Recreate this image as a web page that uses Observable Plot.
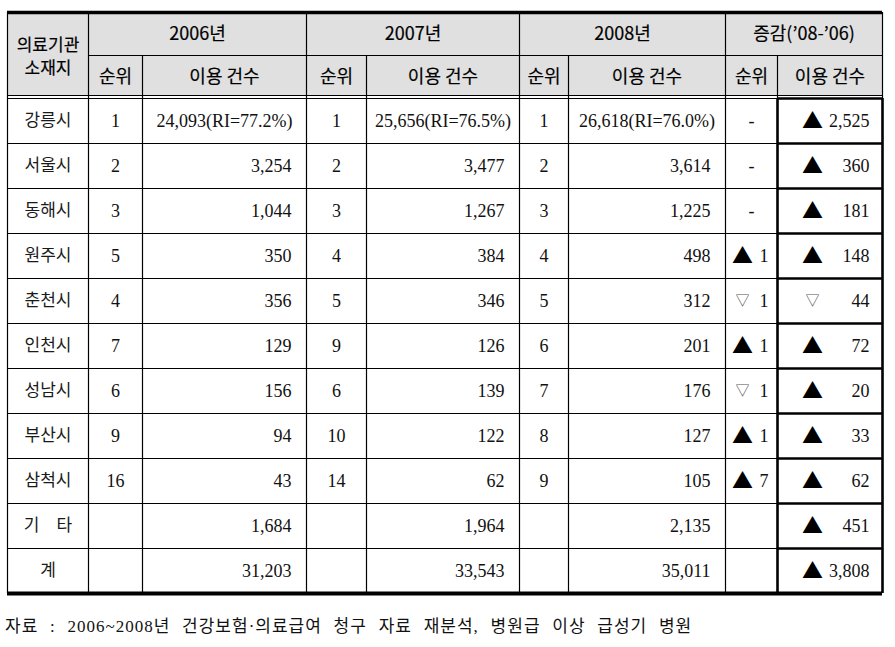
<!DOCTYPE html>
<html><head><meta charset="utf-8">
<script src="https://cdn.jsdelivr.net/npm/d3@7"></script>
<script src="https://cdn.jsdelivr.net/npm/@observablehq/plot@0.6"></script>
<style>
body{margin:0;background:#fff;}
#chart{position:absolute;left:0;top:0;}
#cap{position:absolute;left:5px;top:617px;font-family:"Liberation Serif","Noto Sans CJK KR",serif;font-size:17px;letter-spacing:1px;word-spacing:6.5px;color:#111;white-space:nowrap;line-height:20px;}
</style></head><body>
<div id="chart"></div>
<div id="cap"></div>
<script>
// ---- data ----
const cities = ["강릉시","서울시","동해시","원주시","춘천시","인천시","성남시","부산시","삼척시","기 타","계"];
const rank2006 = [1,2,3,5,4,7,6,9,16,null,null];
const count2006 = [24093,3254,1044,350,356,129,156,94,43,1684,31203];
const rank2007 = [1,2,3,4,5,9,6,10,14,null,null];
const count2007 = [25656,3477,1267,384,346,126,139,122,62,1964,33543];
const rank2008 = [1,2,3,4,5,6,7,8,9,null,null];
const count2008 = [26618,3614,1225,498,312,201,176,127,105,2135,35011];
const riShare = [77.2,76.5,76.0];
const rankChange = [0,0,0,1,-1,1,-1,1,7,null,null];
const countChange = [2525,360,181,148,-44,72,20,33,62,451,3808];
const yearLabels = ["2006년","2007년","2008년","증감(’08-’06)"];
const subLabels = ["순위","이용 건수"];
const cornerLabel = "의료기관\n소재지";
const caption = "자료 : 2006~2008년 건강보험·의료급여 청구 자료 재분석, 병원급 이상 급성기 병원";

// ---- layout ----
const W = 895, H = 600;
const colEdges = [7, 88, 142, 306, 366, 519, 568, 725, 777, 882];
const mid = (a, b) => (colEdges[a] + colEdges[b]) / 2;
const nRows = cities.length;
const fmt = d3.format(",");
const KR = "Noto Sans CJK KR";
const SERIF = "Liberation Serif";

const yearData = [
  {ranks: rank2006, counts: count2006, ri: riShare[0], c: 1},
  {ranks: rank2007, counts: count2007, ri: riShare[1], c: 3},
  {ranks: rank2008, counts: count2008, ri: riShare[2], c: 5}
];
const rankCells = [], countCells = [], riCells = [];
yearData.forEach(yd => cities.forEach((_, i) => {
  if (yd.ranks[i] != null) rankCells.push({i, x: mid(yd.c, yd.c + 1), t: String(yd.ranks[i])});
  if (i === 0) riCells.push({i, x: mid(yd.c + 1, yd.c + 2), t: `${fmt(yd.counts[i])}(RI=${yd.ri.toFixed(1)}%)`});
  else countCells.push({i, x: colEdges[yd.c + 2], t: fmt(yd.counts[i])});
}));
const cityCells = cities.map((c, i) => ({i, x: mid(0, 1), t: c.replace(" ", "\u2003")}));

const dashCells = [], rcTri = [], rcNum = [], ccTri = [], ccNum = [];
cities.forEach((_, i) => {
  const r = rankChange[i];
  if (r === 0) dashCells.push({i, x: mid(7, 8), t: "-"});
  else if (r != null) {
    rcTri.push({i, x: colEdges[7], up: r > 0});
    rcNum.push({i, x: colEdges[8], t: String(Math.abs(r))});
  }
  const v = countChange[i];
  ccTri.push({i, x: colEdges[8], up: v > 0});
  ccNum.push({i, x: colEdges[9], t: fmt(Math.abs(v))});
});

const headerYears = yearLabels.map((t, k) => ({x: mid(1 + 2 * k, 3 + 2 * k), t}));
const headerSubs = [];
for (let k = 0; k < 4; k++) subLabels.forEach((t, j) => headerSubs.push({x: mid(1 + 2 * k + j, 2 + 2 * k + j), t}));

const hLines = d3.range(1, nRows);
const vHeaderFull = [0, 1, 3, 5, 7, 9].map(k => colEdges[k]);
const vHeaderHalf = [2, 4, 6, 8].map(k => colEdges[k]);
const vBodyThin = d3.range(0, 8).map(k => colEdges[k]);
const vBodyThick = [8, 9].map(k => colEdges[k]);

const up = d => d.up ? "▲" : "▽";
const hdr = {fontFamily: KR, fontSize: 18, fill: "#000", stroke: "#000", strokeWidth: 0.2};

const plot = Plot.plot({
  width: W, height: H, margin: 0,
  x: {type: "linear", domain: [0, W], range: [0, W], axis: null},
  y: {type: "linear", domain: [-2, -1, 0, nRows], range: [12, 55, 98, 593], axis: null},
  style: {background: "#fff", overflow: "visible"},
  marks: [
    Plot.rect([0], {x1: colEdges[0], x2: colEdges[9], y1: -2, y2: 0, insetBottom: 3, fill: "#e0e0e0"}),
    // horizontal lines
    Plot.ruleY(hLines, {y: d => d, x1: colEdges[0], x2: colEdges[8], stroke: "#000", strokeWidth: 1.2}),
    Plot.ruleY(d3.range(0, nRows), {y: d => d, x1: colEdges[8], x2: colEdges[9], stroke: "#000", strokeWidth: 2.6}),
    Plot.ruleY([-1], {x1: colEdges[1], x2: colEdges[9], stroke: "#000", strokeWidth: 1.2}),
    Plot.ruleY([0], {x1: colEdges[0], x2: colEdges[9], dy: -3, stroke: "#000", strokeWidth: 1}),
    Plot.ruleY([0], {x1: colEdges[0], x2: colEdges[8], stroke: "#000", strokeWidth: 1.2}),
    // vertical lines
    Plot.ruleX(vHeaderFull, {x: d => d, y1: -2, y2: 0, stroke: "#000", strokeWidth: 1.2}),
    Plot.ruleX(vHeaderHalf, {x: d => d, y1: -1, y2: 0, stroke: "#000", strokeWidth: 1.2}),
    Plot.ruleX(vBodyThin, {x: d => d, y1: 0, y2: nRows, stroke: "#000", strokeWidth: 1.2}),
    Plot.ruleX(vBodyThick, {x: d => d, y1: 0, y2: nRows, stroke: "#000", strokeWidth: 2.6}),
    // outer borders
    Plot.ruleY([-2], {x1: colEdges[0], x2: colEdges[9], stroke: "#000", strokeWidth: 3.5}),
    Plot.ruleY([nRows], {x1: colEdges[0], x2: colEdges[9], stroke: "#000", strokeWidth: 4}),
    // header text
    Plot.text([cornerLabel], {x: mid(0, 1), y: -1, text: d => d, lineHeight: 1.35, ...hdr, fontSize: 17}),
    Plot.text(headerYears, {x: "x", y: -1.5, text: "t", ...hdr}),
    Plot.text(headerSubs, {x: "x", y: -0.5, text: "t", ...hdr}),
    // body text
    Plot.text(cityCells, {x: "x", y: d => d.i + 0.5, text: "t", fontFamily: KR, fontSize: 17, fill: "#1a1a1a"}),
    Plot.text(rankCells, {x: "x", y: d => d.i + 0.5, text: "t", fontFamily: SERIF, fontSize: 18, fill: "#111"}),
    Plot.text(countCells, {x: "x", y: d => d.i + 0.5, text: "t", textAnchor: "end", dx: -15, fontFamily: SERIF, fontSize: 18, fill: "#111"}),
    Plot.text(riCells, {x: "x", y: d => d.i + 0.5, text: "t", fontFamily: SERIF, fontSize: 18, fill: "#111"}),
    Plot.text(dashCells, {x: "x", y: d => d.i + 0.5, text: "t", fontFamily: SERIF, fontSize: 18, fill: "#111"}),
    Plot.text(rcTri, {x: "x", y: d => d.i + 0.5, text: up, dx: 17, fontFamily: KR, fontSize: d => d.up ? 21 : 14, fill: d => d.up ? "#000" : "#555"}),
    Plot.text(rcNum, {x: "x", y: d => d.i + 0.5, text: "t", textAnchor: "end", dx: -9, fontFamily: SERIF, fontSize: 18, fill: "#111"}),
    Plot.text(ccTri, {x: "x", y: d => d.i + 0.5, text: up, dx: 35, fontFamily: KR, fontSize: d => d.up ? 21 : 14, fill: d => d.up ? "#000" : "#555"}),
    Plot.text(ccNum, {x: "x", y: d => d.i + 0.5, text: "t", textAnchor: "end", dx: -13, fontFamily: SERIF, fontSize: 18, fill: "#111"})
  ]
});
document.getElementById("chart").appendChild(plot);
document.getElementById("cap").textContent = caption;
</script>
</body></html>
